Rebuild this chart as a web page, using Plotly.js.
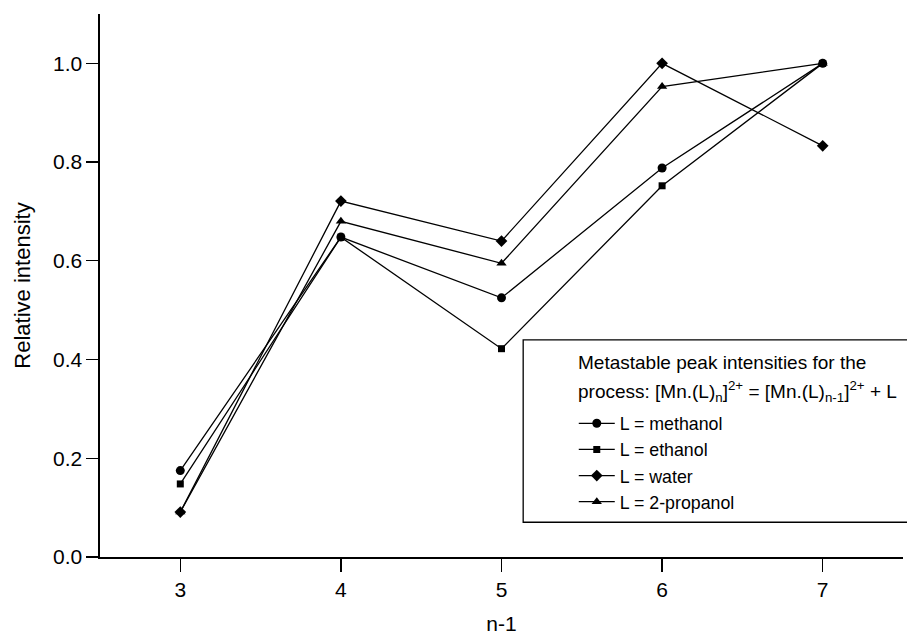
<!DOCTYPE html>
<html>
<head>
<meta charset="utf-8">
<script src="https://cdn.plot.ly/plotly-3.0.1.min.js"></script>
<style>html,body{margin:0;padding:0;background:#fff;}#chart{width:907px;height:637px;}</style>
</head>
<body>
<div id="chart"></div>
<script>
const nMinus1 = [3, 4, 5, 6, 7];
const methanol = [0.175, 0.648, 0.525, 0.788, 1.0];
const ethanol = [0.148, 0.648, 0.422, 0.752, 1.0];
const water = [0.091, 0.721, 0.640, 1.0, 0.833];
const propanol = [0.091, 0.680, 0.595, 0.953, 1.0];
const seriesNames = ['L = methanol', 'L = ethanol', 'L = water', 'L = 2-propanol'];
const yTicks = [0, 0.2, 0.4, 0.6, 0.8, 1.0];
const legendTitleLines = ['Metastable peak intensities for the',
  'process: [Mn.(L)<sub>n</sub>]<sup>2+</sup> = [Mn.(L)<sub>n-1</sub>]<sup>2+</sup> + L'];

const font = 'Liberation Sans, Arial, sans-serif';
function tr(y, name, symbol, size) {
  return {x: nMinus1, y: y, name: name, type: 'scatter', mode: 'lines+markers',
    line: {color: '#000', width: 1.3},
    marker: {symbol: symbol, size: size, color: '#000'}};
}
const data = [
  tr(methanol, seriesNames[0], 'circle', 9),
  tr(ethanol, seriesNames[1], 'square', 7),
  tr(water, seriesNames[2], 'diamond', 9),
  tr(propanol, seriesNames[3], 'triangle-up', 9)
];
const layout = {
  width: 907, height: 637,
  margin: {l: 100, r: 4, t: 14, b: 80},
  paper_bgcolor: '#fff', plot_bgcolor: '#fff',
  font: {family: font, size: 19, color: '#000'},
  showlegend: true,
  legend: {
    x: 0.590, y: 0.2795, xanchor: 'left', yanchor: 'top',
    borderwidth: 0, bgcolor: 'rgba(0,0,0,0)',
    font: {family: font, size: 17.8, color: '#000'},
    itemwidth: 36, tracegroupgap: 0
  },
  annotations: [
    {text: legendTitleLines[0], xref: 'paper', yref: 'paper', x: 0.593, y: 0.359,
     xanchor: 'left', yanchor: 'middle', showarrow: false, font: {family: font, size: 19}},
    {text: legendTitleLines[1], xref: 'paper', yref: 'paper', x: 0.593, y: 0.3057,
     xanchor: 'left', yanchor: 'middle', showarrow: false, font: {family: font, size: 19}}
  ],
  shapes: [{
    type: 'rect', xref: 'paper', yref: 'paper',
    x0: 0.527, x1: 1.01, y0: 0.064, y1: 0.400,
    line: {color: '#000', width: 1.3}, fillcolor: '#fff', layer: 'above'
  }],
  xaxis: {
    range: [2.5, 7.5], tickvals: nMinus1, ticktext: nMinus1.map(String),
    showline: true, linecolor: '#000', linewidth: 1.6, showgrid: false, zeroline: false,
    ticks: 'outside', ticklen: 13, tickwidth: 1.3, tickcolor: '#000',
    tickfont: {family: font, size: 21},
    title: {text: 'n-1', font: {family: font, size: 21}, standoff: 16}
  },
  yaxis: {
    range: [0, 1.1], tickvals: yTicks, ticktext: yTicks.map(v => v.toFixed(1)),
    showline: true, linecolor: '#000', linewidth: 1.6, showgrid: false, zeroline: false,
    ticks: 'outside', ticklen: 12, tickwidth: 1.3, tickcolor: '#000',
    tickfont: {family: font, size: 21},
    title: {text: 'Relative intensity', font: {family: font, size: 22}, standoff: 16}
  }
};
Plotly.newPlot('chart', data, layout, {displayModeBar: false, staticPlot: true});
</script>
</body>
</html>
